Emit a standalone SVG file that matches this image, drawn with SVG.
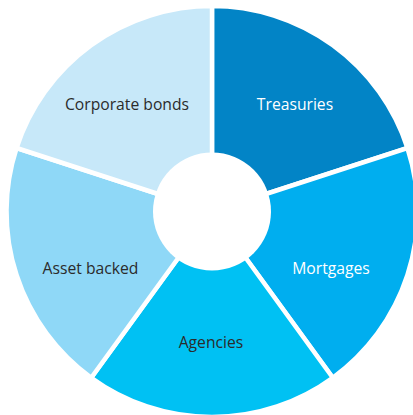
<svg xmlns="http://www.w3.org/2000/svg" width="413" height="415" viewBox="0 0 413 415">
<style>
.seg{stroke:#fff;stroke-width:4.5;stroke-linejoin:miter}
.lbl{font-family:"Open Sans","Noto Sans","Liberation Sans",sans-serif;font-size:15.7px;text-anchor:middle}
.dark{fill:#2b2b2b}
.light{fill:#fff}
</style>
<rect width="413" height="415" fill="#fff"/>
<g id="connectors"></g>
<g id="treasuries">
<path class="seg" fill="#0284c6" d="M212,211.5 L212,6 A205.5,205.5 0 0 1 407.44,148 Z"/>
<text class="lbl light" x="295" y="110">Treasuries</text>
</g>
<g id="mortgages">
<path class="seg" fill="#00aeef" d="M212,211.5 L407.44,148 A205.5,205.5 0 0 1 332.79,377.75 Z"/>
<text class="lbl light" x="331" y="274">Mortgages</text>
</g>
<g id="agencies">
<path class="seg" fill="#00c1f3" d="M212,211.5 L332.79,377.75 A205.5,205.5 0 0 1 91.21,377.75 Z"/>
<text class="lbl dark" x="211" y="348">Agencies</text>
</g>
<g id="asset-backed">
<path class="seg" fill="#8fd8f7" d="M212,211.5 L91.21,377.75 A205.5,205.5 0 0 1 16.56,148 Z"/>
<text class="lbl dark" x="90.5" y="274">Asset backed</text>
</g>
<g id="corporate-bonds">
<path class="seg" fill="#c7e8f9" d="M212,211.5 L16.56,148 A205.5,205.5 0 0 1 212,6 Z"/>
<text class="lbl dark" x="127" y="110">Corporate bonds</text>
</g>
<g id="hole">
<circle cx="212" cy="211.5" r="59" fill="#fff"/>
</g>
</svg>
